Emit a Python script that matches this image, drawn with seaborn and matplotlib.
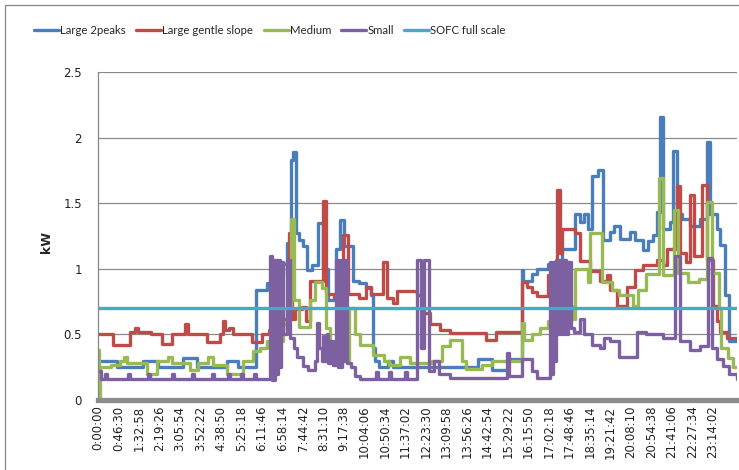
import matplotlib
matplotlib.use("Agg")
import matplotlib.pyplot as plt
import seaborn as sns
import pandas as pd

# ---- data: household electricity demand profiles (time in hours, power in kW) ----
large2_t = [0.0, 0.15, 0.72, 1.70, 2.27, 3.20, 3.74, 4.87, 5.30, 5.95, 6.37, 6.52, 7.00, 7.13,
            7.28, 7.37, 7.48, 7.60, 7.76, 7.90, 8.10, 8.30, 8.50, 8.70, 9.00, 9.15, 9.30, 9.65,
            9.85, 10.14, 10.33, 10.38, 10.45, 10.60, 10.95, 11.15, 14.35, 14.90, 15.50, 16.00,
            16.05, 16.38, 16.57, 17.01, 17.26, 17.52, 18.02, 18.20, 18.35, 18.52, 18.65, 18.90,
            19.07, 19.34, 19.50, 19.72, 20.10, 20.29, 20.60, 20.79, 20.98, 21.10, 21.23, 21.36,
            21.61, 21.74, 21.86, 22.05, 22.37, 22.74, 22.99, 23.12, 23.37, 23.50, 23.69, 23.82, 24.14]
large2_kw = [0.30, 0.30, 0.25, 0.30, 0.25, 0.32, 0.25, 0.30, 0.25, 0.84, 0.89, 0.95, 1.04, 1.20,
             1.83, 1.89, 1.27, 1.22, 1.17, 0.99, 1.03, 1.35, 1.00, 0.76, 1.15, 1.37, 1.17, 0.91,
             0.89, 0.85, 0.80, 0.40, 0.30, 0.25, 0.30, 0.25, 0.31, 0.23, 0.31, 0.99,
             0.91, 0.96, 1.00, 1.04, 1.05, 1.15, 1.42, 1.36, 1.42, 1.30, 1.71, 1.75,
             1.22, 1.28, 1.33, 1.23, 1.28, 1.22, 1.14, 1.21, 1.26, 1.43, 2.16, 1.30,
             1.36, 1.90, 1.42, 1.38, 1.33, 1.38, 1.97, 1.42, 1.30, 1.18, 0.80, 0.45, 0.45]

gentle_t = [0.0, 0.57, 1.21, 1.40, 1.50, 2.00, 2.40, 2.80, 3.30, 3.40, 4.10, 4.60, 4.72, 4.80,
            4.95, 5.10, 5.80, 6.20, 6.45, 7.00, 7.20, 7.33, 7.45, 7.70, 7.85, 8.00, 8.50, 8.60,
            8.90, 9.25, 9.45, 9.85, 10.14, 10.30, 10.77, 10.90, 11.14, 11.30, 12.05, 12.24,
            12.54, 12.92, 13.30, 14.65, 15.05, 16.00, 16.20, 16.40, 16.60, 17.00, 17.33, 17.45,
            17.52, 18.02, 18.21, 18.59, 18.97, 19.22, 19.35, 19.60, 20.00, 20.30, 20.60, 21.10,
            21.36, 21.48, 21.86, 21.99, 22.20, 22.37, 22.50, 22.82, 22.99, 23.24, 23.40, 23.50,
            23.75, 24.14]
gentle_kw = [0.50, 0.42, 0.52, 0.55, 0.52, 0.50, 0.43, 0.50, 0.58, 0.50, 0.44, 0.50, 0.60, 0.53,
             0.55, 0.50, 0.44, 0.50, 0.53, 0.62, 1.27, 0.62, 0.69, 0.71, 0.60, 0.91, 1.52, 0.81,
             0.78, 1.26, 0.81, 0.78, 0.86, 0.81, 1.05, 0.78, 0.74, 0.83, 0.80, 0.66,
             0.58, 0.53, 0.51, 0.46, 0.52, 0.90, 0.86, 0.82, 0.79, 0.95, 1.60, 1.12,
             1.30, 1.27, 1.06, 0.98, 0.91, 0.95, 0.84, 0.72, 0.86, 0.99, 1.03, 1.07,
             1.03, 1.15, 1.63, 1.12, 1.05, 1.56, 1.10, 1.64, 1.07, 0.72, 0.60, 0.52,
             0.47, 0.47]

medium_t = [0.0, 0.05, 0.08, 0.50, 0.83, 1.00, 1.10, 1.84, 2.22, 2.66, 2.78, 3.48, 3.79, 4.17,
            4.36, 4.86, 5.49, 5.87, 6.12, 6.37, 7.00, 7.15, 7.28, 7.40, 7.60, 8.00, 8.20, 8.45,
            8.60, 8.75, 9.00, 9.50, 9.70, 9.90, 10.40, 10.80, 11.00, 11.40, 11.80, 12.60, 13.00,
            13.30, 13.75, 13.90, 14.50, 14.90, 16.00, 16.10, 16.40, 16.70, 17.00, 17.20, 17.90,
            18.02, 18.50, 18.60, 19.05, 19.40, 19.70, 20.20, 20.40, 20.70, 21.20, 21.35, 21.75,
            21.90, 22.30, 22.70, 23.00, 23.20, 23.45, 23.55, 23.80, 24.00, 24.14]
medium_kw = [0.38, 0.00, 0.25, 0.27, 0.30, 0.33, 0.28, 0.20, 0.30, 0.33, 0.28, 0.23, 0.28, 0.33,
             0.27, 0.20, 0.30, 0.37, 0.40, 0.45, 0.58, 0.70, 1.38, 0.76, 0.56, 0.76, 0.90, 0.85,
             0.55, 0.38, 0.30, 0.70, 0.50, 0.42, 0.34, 0.30, 0.27, 0.33, 0.28, 0.30, 0.41,
             0.46, 0.30, 0.24, 0.27, 0.30, 0.59, 0.46, 0.50, 0.55, 0.60, 0.72, 0.62,
             1.00, 0.90, 1.27, 0.90, 0.84, 0.80, 0.72, 0.84, 0.96, 1.69, 0.95, 1.45,
             0.97, 0.90, 0.92, 1.51, 0.97, 0.70, 0.40, 0.32, 0.25, 0.25]

small_t = [0.0, 0.10, 0.26, 0.33, 1.13, 1.20, 1.90, 1.97, 2.80, 2.87, 3.55, 3.62, 4.30, 4.37,
           4.90, 4.97, 5.40, 5.47, 5.90, 5.97, 6.50, 6.56, 6.60, 6.66, 6.70, 6.76, 6.80, 6.86,
           6.90, 6.97, 7.15, 7.25, 7.40, 7.50, 7.76, 7.95, 8.20, 8.26, 8.33, 8.45, 8.50, 8.55,
           8.65, 8.70, 8.80, 8.88, 9.00, 9.05, 9.10, 9.16, 9.22, 9.28, 9.33, 9.42, 9.55, 9.70,
           9.90, 10.50, 10.56, 11.00, 11.06, 11.60, 11.66, 12.05, 12.22, 12.30, 12.52, 12.70,
           12.90, 13.30, 15.45, 15.52, 16.00, 16.40, 16.60, 17.08, 17.12, 17.18, 17.24, 17.30,
           17.38, 17.45, 17.52, 17.60, 17.68, 17.75, 17.85, 18.00, 18.20, 18.35, 18.65, 18.97,
           19.10, 19.34, 19.70, 20.35, 20.70, 21.35, 21.80, 21.98, 22.37, 22.74, 23.05, 23.20,
           23.40, 23.60, 23.85, 24.14]
small_kw = [0.22, 0.16, 0.20, 0.16, 0.20, 0.16, 0.20, 0.16, 0.20, 0.16, 0.20, 0.16, 0.20, 0.16,
            0.20, 0.16, 0.20, 0.16, 0.20, 0.16, 1.10, 0.15, 1.07, 0.15, 1.07, 0.20, 1.07, 0.25,
            1.05, 0.50, 1.07, 0.47, 0.40, 0.33, 0.26, 0.23, 0.30, 0.59, 0.40, 0.30, 0.49, 0.30,
            0.50, 0.28, 0.45, 0.27, 1.07, 0.25, 1.07, 0.25, 1.07, 0.30, 1.07, 0.28, 0.25, 0.18,
            0.16, 0.21, 0.16, 0.21, 0.16, 0.21, 0.16, 1.07, 0.40, 1.07, 0.22, 0.30,
            0.20, 0.17, 0.36, 0.18, 0.31, 0.22, 0.17, 1.05, 0.20, 1.05, 0.30, 1.07,
            0.50, 1.07, 0.50, 1.07, 0.50, 1.05, 0.55, 0.52, 0.62, 0.50, 0.42, 0.40,
            0.47, 0.45, 0.33, 0.52, 0.50, 0.47, 1.10, 0.45, 0.38, 0.41, 1.08, 0.40,
            0.31, 0.26, 0.20, 0.16]

sofc_t = [0.0, 24.14]
sofc_kw = [0.7, 0.7]

series_names = ["Large 2peaks", "Large gentle slope", "Medium", "Small", "SOFC full scale"]
series_colors = ["#4A7EBB", "#BE4B48", "#98B954", "#7D60A0", "#46AAC5"]

tick_labels = ["0:00:00", "0:46:30", "1:32:58", "2:19:26", "3:05:54", "3:52:22", "4:38:50",
               "5:25:18", "6:11:46", "6:58:14", "7:44:42", "8:31:10", "9:17:38", "10:04:06",
               "10:50:34", "11:37:02", "12:23:30", "13:09:58", "13:56:26", "14:42:54",
               "15:29:22", "16:15:50", "17:02:18", "17:48:46", "18:35:14", "19:21:42",
               "20:08:10", "20:54:38", "21:41:06", "22:27:34", "23:14:02"]

frames = []
for name, t, kw in zip(series_names,
                       [large2_t, gentle_t, medium_t, small_t, sofc_t],
                       [large2_kw, gentle_kw, medium_kw, small_kw, sofc_kw]):
    frames.append(pd.DataFrame({"hour": t, "kW": kw, "profile": name}))

# ---- figure ----
sns.set_style("white")
plt.rcParams["font.family"] = ["DejaVu Sans"]

fig = plt.figure(figsize=(7.39, 4.70), dpi=100)
ax = fig.add_axes([98 / 739, 1 - 400 / 470, 639 / 739, 328 / 470])

for df, color in zip(frames, series_colors):
    sns.lineplot(data=df, x="hour", y="kW", ax=ax, color=color, linewidth=2.4,
                 estimator=None, sort=False, drawstyle="steps-post",
                 label=df["profile"].iloc[0], legend=False)

ax.set_xlim(0, 24.14)
ax.set_ylim(0, 2.5)

def to_hours(s):
    h, m, sec = (int(p) for p in s.split(":"))
    return h + m / 60 + sec / 3600

ax.set_xticks([to_hours(s) for s in tick_labels])
ax.set_xticklabels(tick_labels, rotation=90, fontsize=8.5, color="#222222")
ax.tick_params(axis="x", length=0, pad=4)

yticks = [0, 0.5, 1, 1.5, 2, 2.5]
ax.set_yticks(yticks)
ax.set_yticklabels(["0", "0.5", "1", "1.5", "2", "2.5"], fontsize=8.5, color="#222222")
ax.tick_params(axis="y", length=4.5, width=0.8, color="#868686", pad=7, direction="out")

ax.yaxis.grid(True, color="#8a8a8a", linewidth=0.9)
ax.xaxis.grid(False)
ax.set_axisbelow(True)

for side in ["top", "right"]:
    ax.spines[side].set_visible(False)
ax.spines["left"].set_color("#868686")
ax.spines["left"].set_linewidth(0.9)
ax.spines["bottom"].set_color("#8c8c8c")
ax.spines["bottom"].set_linewidth(3.8)

ax.set_xlabel("")
ax.set_ylabel("kW", fontsize=9, fontweight="bold")
ax.yaxis.set_label_coords((53 - 98) / 639, (400 - 242) / 328)

handles, labels = ax.get_legend_handles_labels()
fig.legend(handles, labels, loc="center", bbox_to_anchor=(270 / 739, 1 - 30 / 470),
           ncol=5, frameon=False, handlelength=2.2, handletextpad=0.1,
           columnspacing=0.9, prop={"family": "Lato", "size": 8.2})

# chart area border
fig.add_artist(plt.Line2D([5 / 739, 1], [1 - 5 / 470, 1 - 5 / 470], transform=fig.transFigure,
                          color="#868686", linewidth=0.9))
fig.add_artist(plt.Line2D([5 / 739, 5 / 739], [0, 1 - 5 / 470], transform=fig.transFigure,
                          color="#868686", linewidth=0.9))

fig.savefig("out.png", dpi=100)
